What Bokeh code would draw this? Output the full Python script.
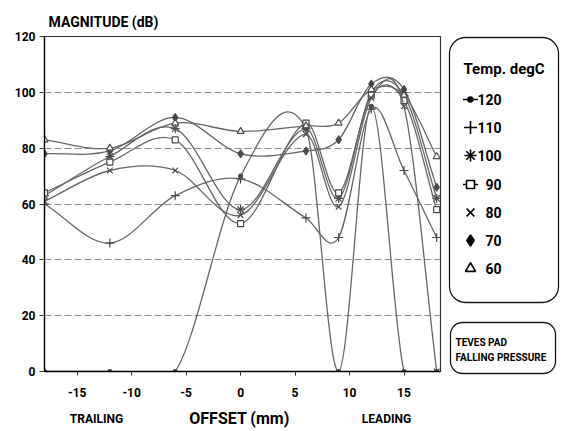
import numpy as np
from bokeh.plotting import figure
from bokeh.layouts import row, column
from bokeh.models import (Range1d, Label, BoxAnnotation, FixedTicker,
                          ColumnDataSource)
from bokeh.core.properties import value
from bokeh.embed import file_html
from bokeh.resources import INLINE

# ---------------- data ----------------
offset_mm = [-18, -12, -6, 0, 6, 9, 12, 15, 18]
temps = ["120", "110", "100", "90", "80", "70", "60"]
mag_120 = [0, 0, 0, 70, 87, 0, 95, 0, 0]
mag_110 = [60, 46, 63, 69, 55, 48, 94, 72, 48]
mag_100 = [63, 77, 87, 58, 87, 62, 100, 99, 62]
mag_90 = [64, 75, 83, 53, 89, 64, 99, 97, 58]
mag_80 = [61, 72, 72, 56, 85, 59, 98, 95, 0]
mag_70 = [78, 79, 91, 78, 79, 83, 103, 101, 66]
mag_60 = [83, 80, 89, 86, 88, 89, 101, 99, 77]
x_ticks = [-15, -10, -5, 0, 5, 10, 15]
x_tick_labels = ["-15", "-10", "-5", "0", "5", "10", "15"]
y_ticks = [0, 20, 40, 60, 80, 100, 120]
grid_levels = [20, 40, 60, 80, 100]

series = [mag_120, mag_110, mag_100, mag_90, mag_80, mag_70, mag_60]
markers = ["circle", "cross", "asterisk", "square", "x", "diamond", "triangle"]
msizes = [4, 9, 9, 6, 8, 8, 7]
mfill = [True, False, False, False, False, True, False]
leg_sizes = [5, 13, 12, 8, 11, 11, 10]

FONT = "Roboto"
LINE = "#666666"
MARK = "#4a4a4a"

W_MAIN, H_MAIN = 442, 401
W_SIDE, H_ALL = 124, 431
H_BOTTOM = H_ALL - H_MAIN

# ---------------- main chart ----------------
p = figure(width=W_MAIN, height=H_MAIN, output_backend="svg",
           toolbar_location=None,
           x_range=Range1d(-18, 18.35), y_range=Range1d(0, 120),
           min_border_left=44, min_border_right=2, min_border_top=36,
           min_border_bottom=30)
p.background_fill_color = "white"
p.border_fill_color = "white"
p.outline_line_color = "#333333"
p.outline_line_width = 1.2

p.title.text = "MAGNITUDE (dB)"
p.title.text_font = FONT
p.title.text_font_style = "bold"
p.title.text_font_size = "14px"
p.title.text_color = "black"
p.title.align = "left"
p.title.offset = 4
p.title.standoff = 13

p.xgrid.visible = False
p.ygrid.ticker = FixedTicker(ticks=grid_levels)
p.ygrid.grid_line_dash = "7 3"
p.ygrid.grid_line_color = "#8c8c8c"
p.ygrid.grid_line_width = 1

for ax, ticks, tout, stand in ((p.xaxis[0], x_ticks, 4, 12),
                               (p.yaxis[0], y_ticks, 5, 4)):
    ax.ticker = FixedTicker(ticks=ticks)
    ax.axis_line_color = "black"
    ax.axis_line_width = 1.3
    ax.major_tick_out = tout
    ax.major_tick_in = 0
    ax.minor_tick_out = 0
    ax.minor_tick_in = 0
    ax.major_tick_line_color = "#333333"
    ax.major_label_text_font = FONT
    ax.major_label_text_font_style = "bold"
    ax.major_label_text_font_size = "12px"
    ax.major_label_text_color = "black"
    ax.major_label_standoff = stand
p.xaxis[0].major_label_overrides = dict(zip(x_ticks, x_tick_labels))


def bezier_source(xs, ys):
    xs = np.asarray(xs, float)
    ys = np.asarray(ys, float)
    m = np.empty(len(xs))
    m[0] = (ys[1] - ys[0]) / (xs[1] - xs[0])
    m[-1] = (ys[-1] - ys[-2]) / (xs[-1] - xs[-2])
    m[1:-1] = (ys[2:] - ys[:-2]) / (xs[2:] - xs[:-2])
    h = np.diff(xs)
    return ColumnDataSource(dict(
        x0=xs[:-1], y0=ys[:-1], x1=xs[1:], y1=ys[1:],
        cx0=xs[:-1] + h / 3, cy0=ys[:-1] + m[:-1] * h / 3,
        cx1=xs[1:] - h / 3, cy1=ys[1:] - m[1:] * h / 3))


for ys, mk, ms, fl in zip(series, markers, msizes, mfill):
    p.bezier(x0="x0", y0="y0", x1="x1", y1="y1", cx0="cx0", cy0="cy0",
             cx1="cx1", cy1="cy1", source=bezier_source(offset_mm, ys),
             line_color=LINE, line_width=1.3)
    p.scatter(offset_mm, ys, marker=mk, size=ms, line_color=MARK,
              fill_color=MARK if fl else "white", line_width=1.2)

# ---------------- strip below the chart (axis captions) ----------------
# the column aligns this strip's frame with the chart frame (page x 44..440)
b = figure(width=W_MAIN, height=H_BOTTOM, output_backend="svg",
           toolbar_location=None, x_range=Range1d(44, 440),
           y_range=Range1d(0, H_BOTTOM), x_axis_type=None, y_axis_type=None,
           min_border=0)
b.outline_line_color = None
b.grid.visible = False


def strip_label(fig, text, px, py, size, align="left", top=0):
    fig.add_layout(Label(x=px, y=top - py, text=text, text_font=FONT,
                         text_font_style="bold", text_font_size=size,
                         text_align=align, text_baseline="middle",
                         text_color="black"))


strip_label(b, "TRAILING", 96, 418, "12px", "center", H_ALL)
strip_label(b, "OFFSET (mm)", 239, 418, "16px", "center", H_ALL)
strip_label(b, "LEADING", 386, 418, "12px", "center", H_ALL)

# ---------------- side panel (legend + note) ----------------
s = figure(width=W_SIDE, height=H_ALL, output_backend="svg",
           toolbar_location=None, x_range=Range1d(W_MAIN, W_MAIN + W_SIDE),
           y_range=Range1d(0, H_ALL), x_axis_type=None, y_axis_type=None,
           min_border=0)
s.outline_line_color = None
s.grid.visible = False

s.add_layout(BoxAnnotation(left=449, right=558, top=H_ALL - 37,
                           bottom=H_ALL - 302, fill_alpha=0,
                           line_color="#1a1a1a", line_alpha=1,
                           line_width=1.3, border_radius=16))
s.add_layout(BoxAnnotation(left=450, right=555, top=H_ALL - 322,
                           bottom=H_ALL - 373, fill_alpha=0,
                           line_color="#1a1a1a", line_alpha=1,
                           line_width=1.3, border_radius=12))

strip_label(s, "Temp. degC", 463, 68, "15px", "left", H_ALL)
row_y = [H_ALL - v for v in (99, 127, 155, 184, 212, 240, 268)]
for t, mk, ls, fl, yy in zip(temps, markers, leg_sizes, mfill, row_y):
    if t in ("120", "90"):
        s.scatter([470], [yy], marker="dash", size=15, line_color="black",
                  line_width=1.3)
    s.scatter([470], [yy], marker=mk, size=ls, line_color="black",
              fill_color="black" if fl else "white", line_width=1.6)
s.text(x=[501] * len(temps), y=row_y, text=temps, text_font=value(FONT),
       text_font_style="bold", text_font_size="14px", text_align="right",
       text_baseline="middle", text_color="black")

strip_label(s, "TEVES PAD", 455, 342, "10px", "left", H_ALL)
strip_label(s, "FALLING PRESSURE", 455, 357, "10px", "left", H_ALL)

layout = row(column(p, b), s)
open("out.html", "w").write(file_html(layout, INLINE))
